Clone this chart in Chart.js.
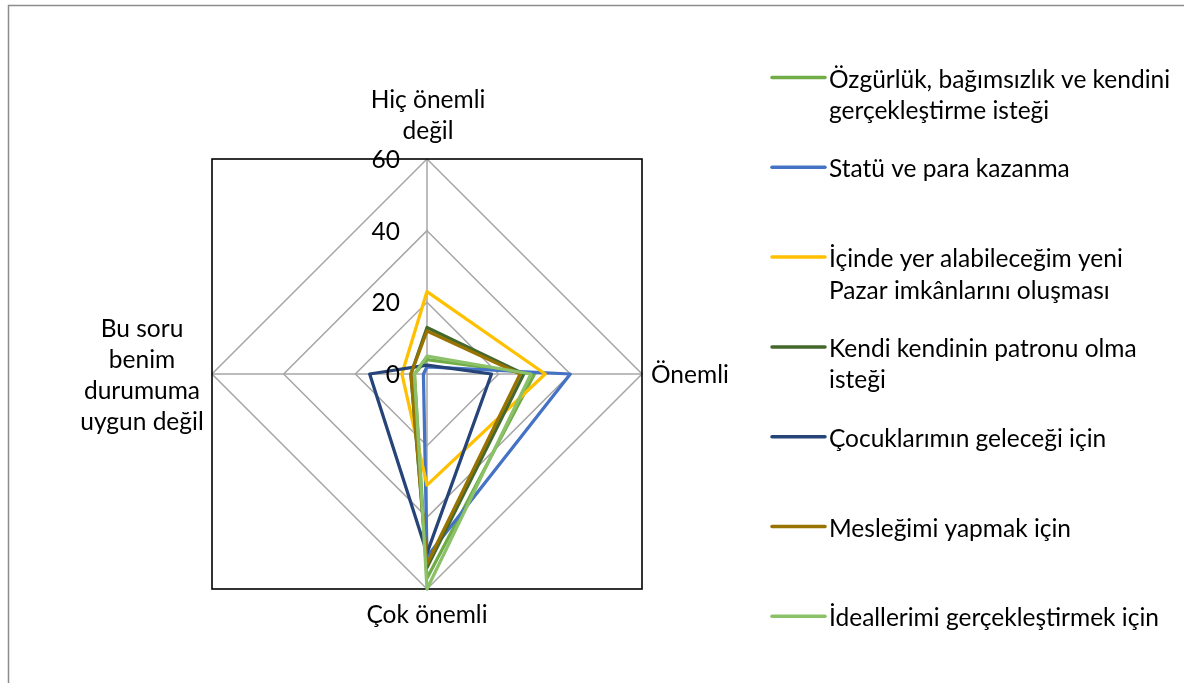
<!DOCTYPE html>
<html>
<head>
<meta charset="utf-8">
<script src="https://cdn.jsdelivr.net/npm/chart.js@4/dist/chart.umd.min.js"></script>
<style>
  html, body { margin: 0; padding: 0; background: #ffffff; }
  #wrap { position: relative; width: 1184px; height: 683px; }
</style>
</head>
<body>
<div id="wrap"><canvas id="c" width="1184" height="683"></canvas></div>
<script>
// Answer categories (axes, clockwise from the top)
const categories = ["Hiç önemli değil", "Önemli", "Çok önemli", "Bu soru benim durumuma uygun değil"];
// Multi-line captions for each axis
const axisCaptions = [["Hiç önemli", "değil"], ["Önemli"], ["Çok önemli"], ["Bu soru", "benim", "durumuma", "uygun değil"]];
// Radial tick labels
const tickValues = [0, 20, 40, 60];

// Series values, one per motive
const ozgurluk = [4, 30, 57, 3.5];
const statu    = [2, 40, 51, 1];
const pazar    = [23, 33, 31, 7];
const patron   = [13, 27, 54, 4.5];
const cocuk    = [2.5, 18, 50, 16];
const meslek   = [12, 26, 53, 4.5];
const ideal    = [5, 29, 60, 3.5];

const seriesNames = [
  ["Özgürlük, bağımsızlık ve kendini", "gerçekleştirme isteği"],
  ["Statü ve para kazanma"],
  ["İçinde yer alabileceğim yeni", "Pazar imkânlarını oluşması"],
  ["Kendi kendinin patronu olma", "isteği"],
  ["Çocuklarımın geleceği için"],
  ["Mesleğimi yapmak için"],
  ["İdeallerimi gerçekleştirmek için"]
];
const seriesValues = [ozgurluk, statu, pazar, patron, cocuk, meslek, ideal];
const seriesColors = ["#70AD47", "#4472C4", "#FFC000", "#43682B", "#264478", "#997300", "#8BC168"];

const FONT = "Lato, 'Liberation Sans', sans-serif";
const FS = 24.5;

const datasets = seriesValues.map((vals, i) => ({
  label: seriesNames[i].join(" "),
  data: vals,
  borderColor: seriesColors[i],
  backgroundColor: seriesColors[i],
  borderWidth: 3.25,
  borderJoinStyle: "round",
  pointRadius: 0,
  pointHoverRadius: 0,
  fill: false,
  tension: 0,
  order: -i   // later series are painted over earlier ones
}));

// Frame, tick labels, axis captions and legend
const decor = {
  id: "decor",
  beforeDatasetsDraw(chart) {
    const s = chart.scales.r;
    const ctx = chart.ctx;
    const R = s.drawingArea;
    ctx.save();
    ctx.strokeStyle = "#000000";
    ctx.lineWidth = 1.6;
    ctx.strokeRect(s.xCenter - R, s.yCenter - R, 2 * R, 2 * R);
    ctx.restore();
  },
  afterDraw(chart) {
    const s = chart.scales.r;
    const ctx = chart.ctx;
    ctx.save();
    // outer chart border
    ctx.strokeStyle = "#8C8C8C";
    ctx.lineWidth = 1.5;
    ctx.strokeRect(8.5, 5.5, 1300, 800);

    ctx.fillStyle = "#000000";
    ctx.font = FS + "px " + FONT;
    ctx.textBaseline = "alphabetic";

    // radial tick labels
    ctx.textAlign = "right";
    tickValues.forEach(v => {
      const y = s.yCenter - s.getDistanceFromCenterForValue(v);
      ctx.fillText(String(v), s.xCenter - 27, y + 9);
    });

    // axis captions
    const LH = 31;
    const top = s.getPointPositionForValue(0, 60);
    ctx.textAlign = "center";
    axisCaptions[0].forEach((t, k) => ctx.fillText(t, top.x + 1, top.y - 51 + k * LH));

    const right = s.getPointPositionForValue(1, 60);
    ctx.textAlign = "left";
    ctx.fillText(axisCaptions[1][0], right.x + 9, right.y + 9);

    const bottom = s.getPointPositionForValue(2, 60);
    ctx.textAlign = "center";
    ctx.fillText(axisCaptions[2][0], bottom.x, bottom.y + 34);

    const left = s.getPointPositionForValue(3, 60);
    const n = axisCaptions[3].length;
    axisCaptions[3].forEach((t, k) => {
      ctx.fillText(t, left.x - 70, left.y + 9 + (k - (n - 1) / 2) * LH);
    });

    // legend
    chart.data.datasets.forEach((ds, i) => {
      const y = 77.5 + i * 89.8;
      ctx.strokeStyle = ds.borderColor;
      ctx.lineWidth = 3.5;
      ctx.lineCap = "round";
      ctx.beginPath();
      ctx.moveTo(772, y);
      ctx.lineTo(825, y);
      ctx.stroke();
      ctx.textAlign = "left";
      seriesNames[i].forEach((t, k) => ctx.fillText(t, 829, y + 10 + k * 31.5));
    });
    ctx.restore();
  }
};

new Chart(document.getElementById("c"), {
  type: "radar",
  data: { labels: categories, datasets },
  options: {
    responsive: false,
    animation: false,
    layout: { padding: { left: 212, top: 159, right: 542, bottom: 94 } },
    plugins: { legend: { display: false }, tooltip: { enabled: false } },
    elements: { line: { tension: 0 } },
    scales: {
      r: {
        min: 0,
        max: 60,
        ticks: { stepSize: 20, display: false },
        pointLabels: { display: false },
        grid: { color: "#A6A6A6", lineWidth: 1.5, circular: false },
        angleLines: { color: "#A6A6A6", lineWidth: 1.5 }
      }
    }
  },
  plugins: [decor]
});
</script>
</body>
</html>
